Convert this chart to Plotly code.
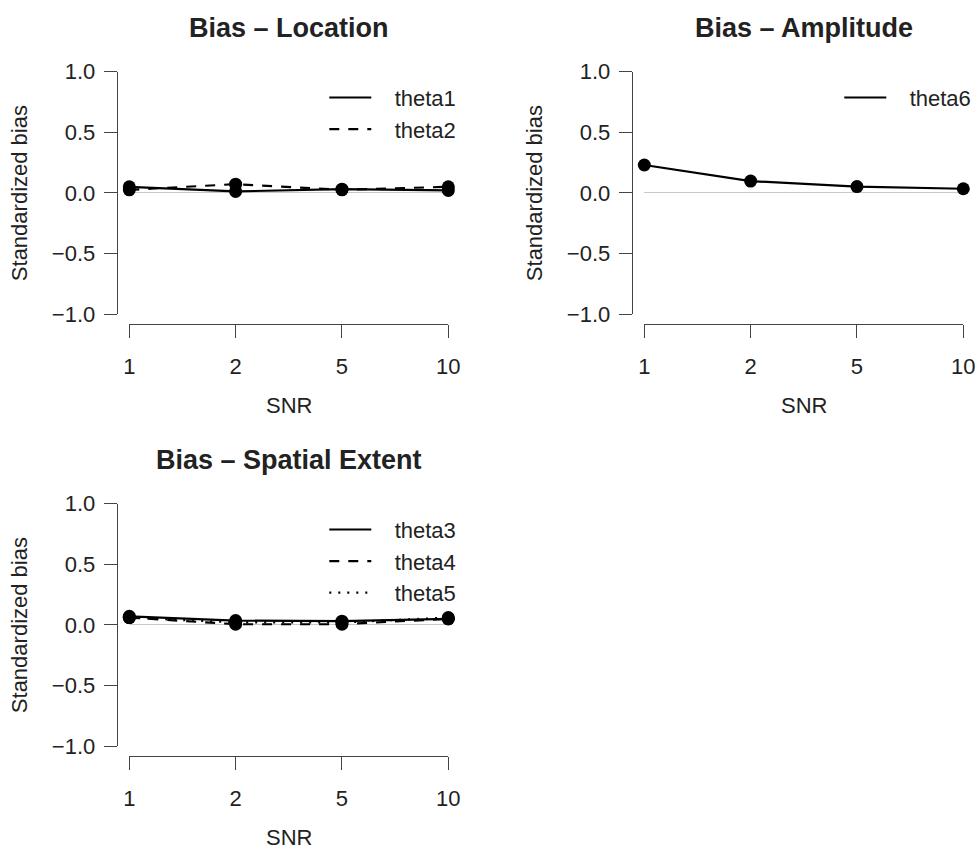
import plotly.graph_objects as go

# ---- data ----
SNR = ["1", "2", "5", "10"]
theta1 = [0.05, 0.012, 0.03, 0.02]
theta2 = [0.025, 0.072, 0.025, 0.05]
theta6 = [0.23, 0.097, 0.052, 0.034]
theta3 = [0.07, 0.035, 0.03, 0.05]
theta4 = [0.06, 0.005, 0.005, 0.05]
theta5 = [0.06, 0.02, 0.02, 0.06]
y_ticks = [-1.0, -0.5, 0.0, 0.5, 1.0]
y_ticktext = ["\u22121.0", "\u22120.5", "0.0", "0.5", "1.0"]

W, H = 977, 849
FONT = "Liberation Sans, Arial, Helvetica, sans-serif"
FS = 22
AXC = "#444444"
TXT = "#222222"
PAD = "\u00a0\u00a0\u00a0"

def px(x):
    return x / W

def py(y):
    return 1 - y / H

panels = [
    ("x", "y", "legend", 129.3, 71.7, "Bias \u2013 Location",
     [("theta1", theta1, "solid"), ("theta2", theta2, "10px,9px")]),
    ("x2", "y2", "legend2", 644.3, 71.7, "Bias \u2013 Amplitude",
     [("theta6", theta6, "solid")]),
    ("x3", "y3", "legend3", 129.3, 503.7, "Bias \u2013 Spatial Extent",
     [("theta3", theta3, "solid"), ("theta4", theta4, "10px,9px"), ("theta5", theta5, "2px,7px")]),
]
PW, PH = 319.0, 242.3

fig = go.Figure()
layout = dict(
    width=W, height=H, margin=dict(l=0, r=0, t=0, b=0, pad=0, autoexpand=False),
    paper_bgcolor="white", plot_bgcolor="white",
    font=dict(family=FONT, size=FS, color=TXT),
    showlegend=True,
)
annotations = []

for xa, ya, lg, x0, y0, title, series in panels:
    for name, vals, dash in series:
        fig.add_trace(go.Scatter(
            x=SNR, y=vals, mode="lines", name=PAD + name,
            line=dict(color="black", width=2.2, dash=dash),
            xaxis=xa, yaxis=ya, legend=lg, cliponaxis=False,
        ))
        fig.add_trace(go.Scatter(
            x=SNR, y=vals, mode="markers", name=name, showlegend=False,
            marker=dict(color="black", size=13),
            xaxis=xa, yaxis=ya, cliponaxis=False,
        ))
    xkey = "xaxis" if xa == "x" else "xaxis" + xa[1:]
    ykey = "yaxis" if ya == "y" else "yaxis" + ya[1:]
    layout[xkey] = dict(
        domain=[px(x0), px(x0 + PW)], anchor="free", position=py(y0 + PH + 10),
        type="category", categoryarray=SNR, range=[0, 3],
        showline=True, linecolor=AXC, linewidth=1,
        ticks="outside", ticklen=13, tickcolor=AXC, tickwidth=1,
        showgrid=False, zeroline=False, ticklabelstandoff=10, automargin=False,
        tickfont=dict(size=FS, color=TXT, family=FONT),
    )
    layout[ykey] = dict(
        domain=[py(y0 + PH), py(y0)], anchor="free", position=px(x0 - 12.6),
        range=[-1, 1], tickvals=y_ticks, ticktext=y_ticktext,
        showline=True, linecolor=AXC, linewidth=1,
        ticks="outside", ticklen=13, tickcolor=AXC, tickwidth=1,
        showgrid=False, zeroline=True, zerolinecolor="#c8c8c8", zerolinewidth=1,
        ticklabelstandoff=4, automargin=False,
        tickfont=dict(size=FS, color=TXT, family=FONT),
    )
    layout[lg] = dict(
        x=px(x0 + 195), y=py(y0 + 5), xanchor="left", yanchor="top",
        bgcolor="rgba(0,0,0,0)", borderwidth=0,
        font=dict(size=FS, color=TXT, family=FONT),
        itemwidth=42, tracegroupgap=0,
    )
    cx = x0 + PW / 2
    annotations.append(dict(
        text="<b>" + title + "</b>", x=px(cx), y=py(y0 - 44), xref="paper", yref="paper",
        xanchor="center", yanchor="middle", showarrow=False,
        font=dict(size=27, color=TXT, family=FONT),
    ))
    annotations.append(dict(
        text="SNR", x=px(cx), y=py(y0 + 334), xref="paper", yref="paper",
        xanchor="center", yanchor="middle", showarrow=False,
        font=dict(size=FS, color=TXT, family=FONT),
    ))
    annotations.append(dict(
        text="Standardized bias", x=px(x0 - 109), y=py(y0 + PH / 2), xref="paper", yref="paper",
        xanchor="center", yanchor="middle", showarrow=False, textangle=-90,
        font=dict(size=FS, color=TXT, family=FONT),
    ))

layout["annotations"] = annotations
fig.update_layout(**layout)
fig.write_html(
    "out.html",
    post_script="document.body.style.margin='0';document.body.style.overflow='hidden';",
)
